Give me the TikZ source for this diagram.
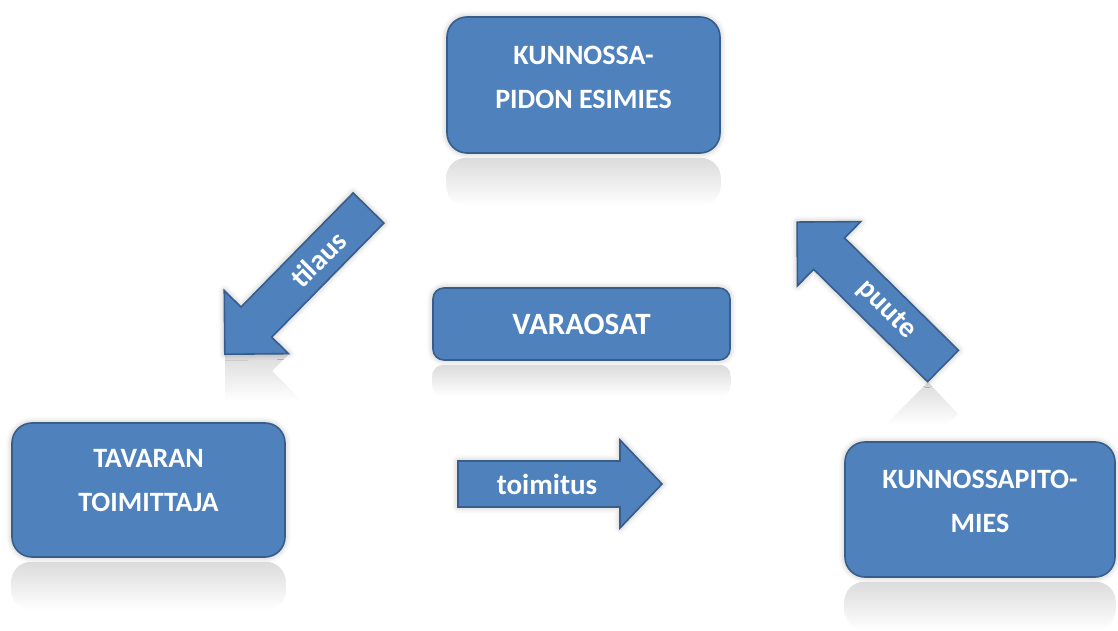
\documentclass[tikz,border=0pt]{standalone}
\usepackage{fontspec}
\setmainfont{Carlito}
\usetikzlibrary{shadows.blur}
\definecolor{officeblue}{HTML}{4F81BD}
\definecolor{officeedge}{HTML}{385D8A}

\begin{document}
\begin{tikzpicture}[x=1pt,y=1pt]
  \tikzstyle{box}=[draw=officeedge, line width=1.6pt, fill=officeblue, rounded corners=20pt,
    blur shadow={shadow xshift=0pt, shadow yshift=0pt, shadow blur radius=6pt, shadow opacity=30}]
  \tikzstyle{boxtext}=[text=white, align=center, font=\fontsize{28}{44}\selectfont\bfseries]
  \tikzstyle{arrowbody}=[draw=officeedge, line width=1.6pt, fill=officeblue, line join=miter,
    blur shadow={shadow xshift=0pt, shadow yshift=0pt, shadow blur radius=6pt, shadow opacity=30}]
  \tikzstyle{arrowtext}=[text=white, font=\fontsize{29}{36}\selectfont\bfseries]
  \tikzstyle{reflect}=[top color=black!14, bottom color=white, draw=none]

  \useasboundingbox (0,0) rectangle (1118,630);

  % the four boxes
  \node[box, minimum width=273, minimum height=136] (esimies) at (583.5,545) {};
  \node[box, rounded corners=11pt, minimum width=297, minimum height=72] (varaosat) at (581.5,306) {};
  \node[box, minimum width=273, minimum height=134] (toimittaja) at (148.5,140) {};
  \node[box, minimum width=270, minimum height=135] (mies) at (980,120.5) {};

  % reflections under the boxes
  \shade[reflect, rounded corners=20pt] ([yshift=-4]esimies.south west) rectangle ([yshift=-52]esimies.south east);
  \shade[reflect, rounded corners=11pt] ([yshift=-4]varaosat.south west) rectangle ([yshift=-36]varaosat.south east);
  \shade[reflect, rounded corners=20pt] ([yshift=-4]toimittaja.south west) rectangle ([yshift=-52]toimittaja.south east);
  \shade[reflect, rounded corners=20pt] ([yshift=-4]mies.south west) rectangle ([yshift=-52]mies.south east);

  \node[boxtext] (esimiesteksti) at ([yshift=8]esimies.center) {KUNNOSSA-\\PIDON ESIMIES};
  \node[boxtext, font=\fontsize{31}{36}\selectfont\bfseries] (varaosatteksti) at (varaosat.center) {VARAOSAT};
  \node[boxtext] (toimittajateksti) at ([yshift=9]toimittaja.center) {TAVARAN\\TOIMITTAJA};
  \node[boxtext] (miesteksti) at ([yshift=8]mies.center) {KUNNOSSAPITO-\\MIES};

  % block arrows
  \shade[reflect] (225,276) -- (289,276) -- (272,259) -- (302,229) -- (225,229) -- cycle;
  \begin{scope}[shift={(368.5,422)}, rotate=225.5]
    \draw[arrowbody] (0,-21.5) -- (160,-21.5) -- (160,-45) -- (205,0) -- (160,45) -- (160,21.5) -- (0,21.5) -- cycle;
    \node[arrowtext, rotate=45] (tilaus) at (72,0) {tilaus};
  \end{scope}

  \begin{scope}[shift={(458,146)}]
    \draw[arrowbody] (0,-23) -- (162,-23) -- (162,-44) -- (204,0) -- (162,44) -- (162,23) -- (0,23) -- cycle;
    \node[arrowtext] (toimitus) at (89,0) {toimitus};
  \end{scope}

  \shade[reflect] (928,248) -- (958,216) -- (947,205) -- (885,205) -- cycle;
  \begin{scope}[shift={(943,264)}, rotate=135.4]
    \draw[arrowbody] (0,-22) -- (160,-22) -- (160,-45) -- (205,0) -- (160,45) -- (160,22) -- (0,22) -- cycle;
    \node[arrowtext, rotate=-45] (puute) at (80,0) {puute};
  \end{scope}
\end{tikzpicture}
\end{document}
